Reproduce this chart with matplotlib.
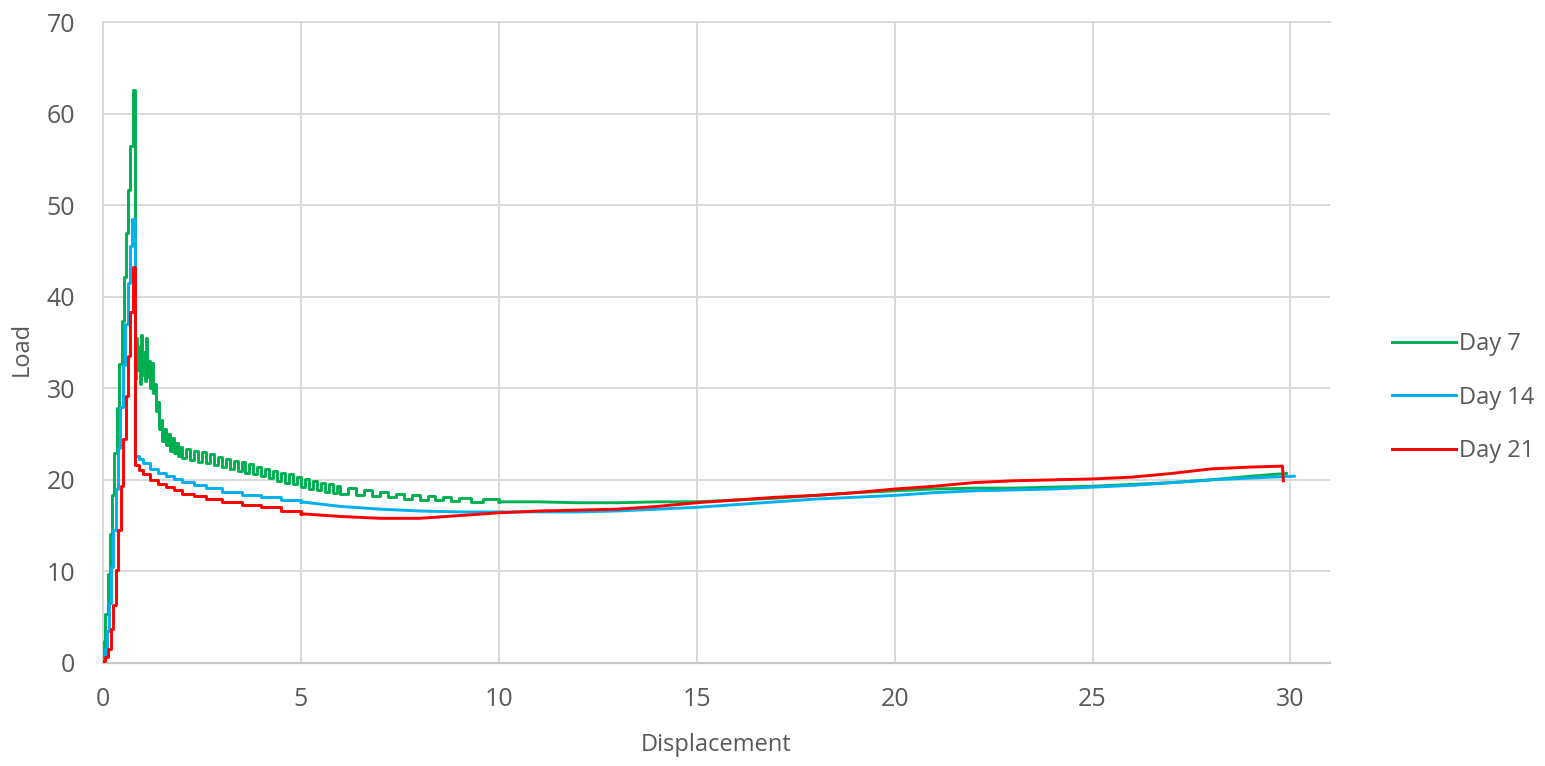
import matplotlib
matplotlib.use("Agg")
import matplotlib.pyplot as plt

plt.rcParams["font.family"] = ["Open Sans", "DejaVu Sans"]

# ---- Day 7: loading branch and noisy post-peak region (stepped trace)
day7_x_early = [0.00, 0.03, 0.06, 0.13, 0.18, 0.23, 0.29, 0.35, 0.41, 0.47, 0.52, 0.58, 0.64, 0.69, 0.75, 0.79,
                0.81, 0.84, 0.87, 0.90, 0.93, 0.96, 0.99, 1.02, 1.05, 1.08, 1.11, 1.14, 1.18, 1.22, 1.26, 1.30,
                1.34, 1.38, 1.42, 1.46, 1.50, 1.55, 1.60, 1.65, 1.70, 1.75, 1.80, 1.85, 1.90, 1.95, 2.00,
                2.1, 2.2, 2.3, 2.4, 2.5, 2.6, 2.7, 2.8, 2.9, 3.0, 3.1, 3.2, 3.3, 3.4, 3.5, 3.6, 3.7, 3.8, 3.9,
                4.0, 4.1, 4.2, 4.3, 4.4, 4.5, 4.6, 4.7, 4.8, 4.9, 5.0, 5.1, 5.2, 5.3, 5.4, 5.5, 5.6, 5.7, 5.8,
                5.9, 6.0, 6.2, 6.4, 6.6, 6.8, 7.0, 7.2, 7.4, 7.6, 7.8, 8.0, 8.2, 8.4, 8.6, 8.8, 9.0, 9.3, 9.6,
                10.0]
day7_load_early = [0.5, 2.4, 5.4, 9.7, 14.1, 18.4, 22.9, 27.9, 32.7, 37.4, 42.2, 47.0, 51.7, 56.5, 62.6, 62.6,
                   31.0, 35.5, 32.0, 34.5, 30.5, 35.8, 31.5, 34.0, 30.8, 35.5, 31.2, 33.0, 30.0, 32.8, 29.5, 30.5,
                   27.5, 28.5, 25.5, 26.5, 24.2, 25.6, 23.8, 25.0, 23.2, 24.6, 22.9, 24.0, 22.6, 23.6, 22.4,
                   23.4, 22.2, 23.2, 22.0, 23.0, 21.8, 22.8, 21.6, 22.5, 21.4, 22.3, 21.2, 22.1, 21.0, 21.9, 20.8,
                   21.7, 20.6, 21.4, 20.4, 21.2, 20.2, 21.0, 19.9, 20.8, 19.7, 20.6, 19.5, 20.3, 19.2, 20.1, 19.0,
                   19.9, 18.9, 19.7, 18.7, 19.5, 18.6, 19.3, 18.5, 19.1, 18.4, 18.9, 18.2, 18.7, 18.1, 18.5, 17.9,
                   18.3, 17.8, 18.2, 17.8, 18.1, 17.7, 18.0, 17.6, 17.9, 17.6]
day7_x_late = [10, 11, 12, 13, 14, 15, 16, 17, 18, 19, 20, 21, 22, 23, 24, 25, 26, 27, 28, 29, 29.9]
day7_load_late = [17.6, 17.6, 17.5, 17.5, 17.6, 17.6, 17.8, 18.0, 18.3, 18.6, 18.8, 19.0, 19.1, 19.1, 19.2,
                  19.3, 19.5, 19.7, 20.0, 20.4, 20.7]

# ---- Day 14
day14_x_early = [0.00, 0.04, 0.09, 0.14, 0.20, 0.26, 0.32, 0.38, 0.44, 0.50, 0.56, 0.62, 0.68, 0.74, 0.80,
                 0.9, 1.0, 1.2, 1.4, 1.6, 1.8, 2.0, 2.3, 2.6, 3.0, 3.5, 4.0, 4.5, 5.0]
day14_load_early = [0.3, 1.5, 3.5, 6.5, 10.5, 14.5, 19.0, 23.5, 28.0, 32.5, 37.0, 41.5, 45.5, 48.5, 22.6,
                    22.3, 21.8, 21.2, 20.8, 20.4, 20.1, 19.8, 19.4, 19.1, 18.7, 18.4, 18.1, 17.8, 17.6]
day14_x_late = [5, 6, 7, 8, 9, 10, 11, 12, 13, 14, 15, 16, 17, 18, 19, 20, 21, 22, 23, 24, 25, 26, 27, 28,
                29, 30.1]
day14_load_late = [17.6, 17.1, 16.8, 16.6, 16.5, 16.5, 16.5, 16.5, 16.6, 16.8, 17.0, 17.3, 17.6, 17.9, 18.1,
                   18.3, 18.6, 18.8, 18.9, 19.0, 19.2, 19.4, 19.7, 20.0, 20.2, 20.4]

# ---- Day 21
day21_x_early = [0.00, 0.06, 0.13, 0.19, 0.26, 0.33, 0.39, 0.45, 0.51, 0.58, 0.62, 0.68, 0.75, 0.81,
                 0.9, 1.0, 1.2, 1.4, 1.6, 1.8, 2.0, 2.3, 2.6, 3.0, 3.5, 4.0, 4.5, 5.0]
day21_load_early = [0.2, 0.7, 1.5, 3.7, 6.3, 10.2, 14.5, 19.3, 24.5, 29.2, 33.5, 38.3, 43.2, 21.6,
                    21.1, 20.6, 20.0, 19.6, 19.2, 18.9, 18.5, 18.2, 17.9, 17.6, 17.3, 17.0, 16.6, 16.3]
day21_x_late = [5, 6, 7, 8, 9, 10, 11, 12, 13, 14, 15, 16, 17, 18, 19, 20, 21, 22, 23, 24, 25, 26, 27, 28,
                29, 29.8, 29.82]
day21_load_late = [16.3, 16.0, 15.8, 15.8, 16.1, 16.4, 16.6, 16.7, 16.8, 17.1, 17.5, 17.8, 18.1, 18.3, 18.6,
                   19.0, 19.3, 19.7, 19.9, 20.0, 20.1, 20.3, 20.7, 21.2, 21.4, 21.5, 19.9]

series = [
    ("Day 7", "#00B050", day7_x_early, day7_load_early, day7_x_late, day7_load_late),
    ("Day 14", "#00B0F0", day14_x_early, day14_load_early, day14_x_late, day14_load_late),
    ("Day 21", "#FF0000", day21_x_early, day21_load_early, day21_x_late, day21_load_late),
]

x_ticks = [0, 5, 10, 15, 20, 25, 30]
y_ticks = [0, 10, 20, 30, 40, 50, 60, 70]

text_color = "#595959"
grid_color = "#D9D9D9"

fig = plt.figure(figsize=(15.45, 7.66), dpi=100)
ax = fig.add_axes([103 / 1545, 1 - 663 / 766, (1330 - 103) / 1545, (663 - 22) / 766])

for label, color, xe, ye, xl, yl in series:
    ax.plot(xe, ye, color=color, lw=2.1, drawstyle="steps-post", label=label, zorder=3)
    ax.plot(xl, yl, color=color, lw=2.1, zorder=3)

ax.set_xlim(0, 31)
ax.set_ylim(0, 70)
ax.set_xticks(x_ticks)
ax.set_yticks(y_ticks)
ax.grid(True, color=grid_color, lw=1.4, zorder=0)
ax.set_axisbelow(True)

ax.spines["right"].set_visible(False)
ax.spines["top"].set_color(grid_color)
ax.spines["top"].set_linewidth(1.4)
ax.spines["left"].set_color(grid_color)
ax.spines["left"].set_linewidth(1.4)
ax.spines["bottom"].set_color("#C8C8C8")
ax.spines["bottom"].set_linewidth(1.6)

ax.tick_params(axis="both", length=0, labelsize=18, labelcolor=text_color)
ax.tick_params(axis="x", pad=17)
ax.tick_params(axis="y", pad=20)

ax.set_xlabel("Displacement", fontsize=17, color=text_color, va="center")
ax.xaxis.set_label_coords(0.5, -(745 - 663) / 641)
ax.set_ylabel("Load", fontsize=17, color=text_color, va="center")
ax.yaxis.set_label_coords(-(103 - 22) / 1227, 0.49)

handles, labels = ax.get_legend_handles_labels()
leg = fig.legend(handles, labels, loc="upper left", bbox_to_anchor=(1392 / 1545, 1 - 332 / 766),
                 frameon=False, fontsize=17, handlelength=2.7, handletextpad=0.15,
                 labelspacing=1.25, borderpad=0, borderaxespad=0)
for t in leg.get_texts():
    t.set_color(text_color)

fig.savefig("out.png", dpi=100)
